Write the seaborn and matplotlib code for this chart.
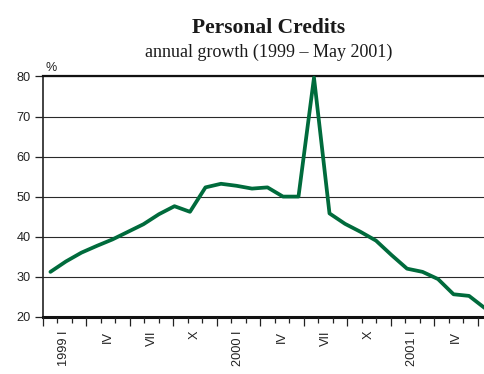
import numpy as np
import pandas as pd
import matplotlib
matplotlib.use("Agg")
import matplotlib.pyplot as plt
import seaborn as sns

# Monthly annual growth of personal credits, Jan 1999 - May 2001 (%)
months = pd.date_range("1999-01-01", "2001-05-01", freq="MS").strftime("%Y-%m").tolist()
growth = [31.2, 33.8, 36.0, 37.7, 39.3, 41.2, 43.1, 45.6, 47.6, 46.2,
          52.3, 53.2, 52.7, 52.0, 52.3, 50.0, 50.0, 79.7, 45.8, 43.2,
          41.2, 39.0, 35.4, 32.0, 31.2, 29.4, 25.6, 25.2, 22.2]

y_ticks = [20, 30, 40, 50, 60, 70, 80]

# Month axis: slot 0 is Dec 1998, labels sit on the first month of each quarter
quarter_slots = [1, 4, 7, 10, 13, 16, 19, 22, 25, 28]
quarter_labels = ["1999 I", "IV", "VII", "X", "2000 I", "IV", "VII", "X", "2001 I", "IV"]
n_slots = 30.5

LINE_COLOR = "#006B3C"
TEXT_COLOR = "#222222"

sns.set_style("white")
plt.rcParams["font.family"] = ["Liberation Sans", "DejaVu Sans"]

fig = plt.figure(figsize=(4.85, 3.74), dpi=100)
ax = fig.add_axes([0.088, 0.1532, 0.912, 0.6423])

df = pd.DataFrame({"pos": np.arange(len(growth)), "month": months, "growth": growth})
sns.lineplot(data=df, x="pos", y="growth", ax=ax, color=LINE_COLOR,
             linewidth=2.7, clip_on=False, zorder=5)

ax.set_xlim(-0.5, 28.03)
ax.set_ylim(20, 80)
ax.set_xticks([])
ax.set_xlabel("")
ax.set_ylabel("")
ax.set_yticks(y_ticks)
ax.tick_params(axis="y", direction="out", length=5.5, width=0.9, pad=3,
               labelsize=9.2, color=TEXT_COLOR, labelcolor=TEXT_COLOR, left=True)
ax.yaxis.grid(True, color="#2a2a2a", linewidth=0.8)
ax.xaxis.grid(False)

ax.spines["right"].set_visible(False)
ax.spines["left"].set_linewidth(1.2)
ax.spines["left"].set_color(TEXT_COLOR)
ax.spines["bottom"].set_linewidth(2.2)
ax.spines["bottom"].set_color("#111111")
ax.spines["top"].set_linewidth(1.6)
ax.spines["top"].set_color("#111111")

# Monthly tick marks, longer at quarter boundaries
ax_t = ax.twiny()
ax_t.set_xlim(0, n_slots)
ax_t.xaxis.set_ticks_position("bottom")
ax_t.set_xticks(np.arange(0, 31, 3))
ax_t.set_xticks(np.arange(0, 31), minor=True)
ax_t.tick_params(axis="x", which="major", direction="out", length=6.7, width=0.9,
                 color=TEXT_COLOR, labelbottom=False, labeltop=False, bottom=True)
ax_t.tick_params(axis="x", which="minor", direction="out", length=4.5, width=0.9,
                 color=TEXT_COLOR, bottom=True)
for s in ax_t.spines.values():
    s.set_visible(False)

# Quarter labels centred in their month slot
ax_l = ax.twiny()
ax_l.set_xlim(0, n_slots)
ax_l.xaxis.set_ticks_position("bottom")
ax_l.set_xticks(np.array(quarter_slots) + 0.5, quarter_labels)
ax_l.tick_params(axis="x", length=0, pad=10, labelrotation=90, labelsize=9.2,
                 labelcolor=TEXT_COLOR, bottom=True, labelbottom=True, labeltop=False)
for s in ax_l.spines.values():
    s.set_visible(False)

fig.text(0.105, 0.818, "%", ha="center", va="center", fontsize=9, color=TEXT_COLOR)

fig.text(0.553, 0.911, "Personal Credits", ha="center", va="baseline",
         fontsize=15.5, fontweight="bold", family=["Liberation Serif", "DejaVu Serif"],
         color="#1a1a1a")
fig.text(0.553, 0.847, "annual growth (1999 \u2013 May 2001)", ha="center", va="baseline",
         fontsize=13, family=["Liberation Serif", "DejaVu Serif"], color="#1a1a1a")

fig.savefig("out.png", dpi=100)
